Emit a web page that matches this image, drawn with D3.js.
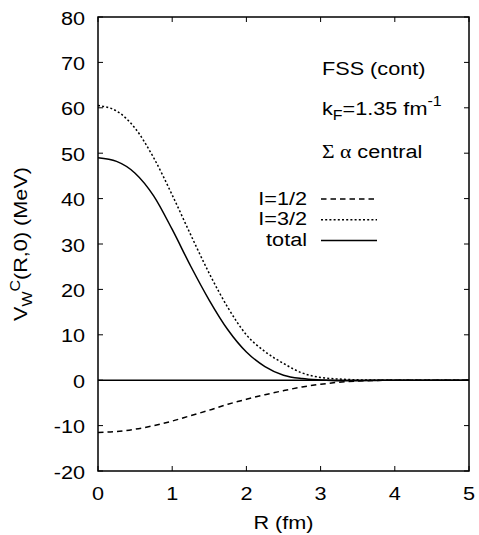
<!DOCTYPE html>
<html lang="en">
  <head>
    <meta charset="utf-8">
    <title>Sigma alpha central potential</title>
    <script type="text/javascript" src="https://cdnjs.cloudflare.com/ajax/libs/d3/7.8.5/d3.min.js"></script>
    <style>
      body { margin: 0; background: #fff; }
      text { font-family: "Liberation Sans", Arial, sans-serif; font-size: 19px; fill: #000; }
    </style>
  </head>
  <body>
    <div id="chartDiv"></div>
    <script>
      // values, R in fm, V in MeV
      var rValues    = [0, 0.25, 0.5, 0.75, 1.0, 1.25, 1.5, 1.75, 2.0, 2.25, 2.5, 2.75, 3.0, 3.25, 3.5, 3.75, 4.0, 4.5, 5.0];
      var vHalf      = [-11.5, -11.3, -10.8, -10.0, -9.0, -7.8, -6.6, -5.3, -4.2, -3.2, -2.3, -1.5, -0.9, -0.45, -0.2, -0.05, 0, 0, 0];
      var vThreeHalf = [60.5, 59.3, 55.5, 49.0, 40.8, 32.0, 23.5, 16.0, 10.0, 6.3, 3.7, 1.6, 0.6, 0.25, 0.08, 0.02, 0, 0, 0];
      var vTotal     = [49.0, 48.2, 45.6, 40.6, 33.2, 25.1, 17.6, 11.1, 6.2, 3.0, 1.1, 0.35, 0.05, -0.1, -0.1, -0.05, 0, 0, 0];

      var xTicks = [0, 1, 2, 3, 4, 5];
      var yTicks = [-20, -10, 0, 10, 20, 30, 40, 50, 60, 70, 80];

      var seriesNames = ["I=1/2", "I=3/2", "total"];
      var seriesDash  = ["5.5,4", "2,2.2", null];
      var seriesVals  = [vHalf, vThreeHalf, vTotal];

      var chartWd = 479
      var chartHt = 535
      var padL = 98, padT = 17, padR = 469, padB = 471
      var sx = 1.14   // the glyphs in the picture are wider than Arial

      var xScale = d3.scaleLinear().domain([0, 5]).range([padL, padR]);
      var yScale = d3.scaleLinear().domain([-20, 80]).range([padB, padT]);

      var svg = d3.select("#chartDiv")
          .append("svg")
          .attr("width", chartWd)
          .attr("height", chartHt);

      var placeText = function(sel, x, y, rot) {
        return sel.attr("transform", "translate(" + x + "," + y + ")" + (rot ? " rotate(" + rot + ")" : "") + " scale(" + sx + ",1)");
      };

      // zero line
      svg.append("line")
         .attr("x1", xScale(0)).attr("x2", xScale(5))
         .attr("y1", yScale(0)).attr("y2", yScale(0))
         .attr("stroke", "#000").attr("stroke-width", 1.4);

      // curves
      var line = d3.line()
          .x(function(d) { return xScale(d[0]); })
          .y(function(d) { return yScale(d[1]); })
          .curve(d3.curveMonotoneX);

      seriesVals.forEach(function(vals, i) {
        var pts = rValues.map(function(r, j) { return [r, vals[j]]; });
        svg.append("path")
           .attr("d", line(pts))
           .attr("fill", "none")
           .attr("stroke", "#000")
           .attr("stroke-width", 1.5)
           .attr("stroke-dasharray", seriesDash[i]);
      });

      // ticks, all pointing inward, mirrored on top and right
      var tickLen = 5
      var ticks = svg.append("g").attr("stroke", "#000").attr("stroke-width", 1);
      xTicks.forEach(function(t) {
        ticks.append("line").attr("x1", xScale(t)).attr("x2", xScale(t)).attr("y1", padB).attr("y2", padB - tickLen);
        ticks.append("line").attr("x1", xScale(t)).attr("x2", xScale(t)).attr("y1", padT).attr("y2", padT + tickLen);
      });
      yTicks.forEach(function(t) {
        ticks.append("line").attr("y1", yScale(t)).attr("y2", yScale(t)).attr("x1", padL).attr("x2", padL + tickLen);
        ticks.append("line").attr("y1", yScale(t)).attr("y2", yScale(t)).attr("x1", padR).attr("x2", padR - tickLen);
      });

      // frame
      svg.append("rect")
         .attr("x", padL).attr("y", padT)
         .attr("width", padR - padL).attr("height", padB - padT)
         .attr("fill", "none").attr("stroke", "#000").attr("stroke-width", 1.5);

      // tick labels
      xTicks.forEach(function(t) {
        placeText(svg.append("text").attr("text-anchor", "middle").text(t), xScale(t), 500);
      });
      yTicks.forEach(function(t) {
        placeText(svg.append("text").attr("text-anchor", "end").text(t), 85, yScale(t) + 7.5);
      });

      // axis titles
      placeText(svg.append("text").attr("text-anchor", "middle").text("R (fm)"), (padL + padR) / 2, 529);

      var yl = placeText(svg.append("text").attr("text-anchor", "middle"), 27, (padT + padB) / 2, -90);
      yl.append("tspan").text("V");
      yl.append("tspan").attr("dy", 5).attr("font-size", "14px").text("W");
      yl.append("tspan").attr("dy", -12).attr("font-size", "14px").text("C");
      yl.append("tspan").attr("dy", 7).text("(R,0) (MeV)");

      // annotations
      var tx = 322
      placeText(svg.append("text").text("FSS (cont)"), tx, 75);
      var kf = placeText(svg.append("text"), tx, 115);
      kf.append("tspan").text("k");
      kf.append("tspan").attr("dy", 5).attr("font-size", "14px").text("F");
      kf.append("tspan").attr("dy", -5).text("=1.35 fm");
      kf.append("tspan").attr("dy", -9).attr("font-size", "14px").text("-1");
      var sa = placeText(svg.append("text"), tx, 158);
      sa.append("tspan").attr("font-family", "Liberation Serif, serif").text("\u03A3 \u03B1");
      sa.append("tspan").text(" central");

      // legend
      seriesNames.forEach(function(name, i) {
        var ly = 199 + i * 20.7;
        placeText(svg.append("text").attr("text-anchor", "end").text(name), 307, ly + 5.5);
        svg.append("line")
           .attr("x1", 321).attr("x2", 377)
           .attr("y1", ly).attr("y2", ly)
           .attr("stroke", "#000").attr("stroke-width", 1.5)
           .attr("stroke-dasharray", seriesDash[i]);
      });
    </script>
  </body>
</html>
